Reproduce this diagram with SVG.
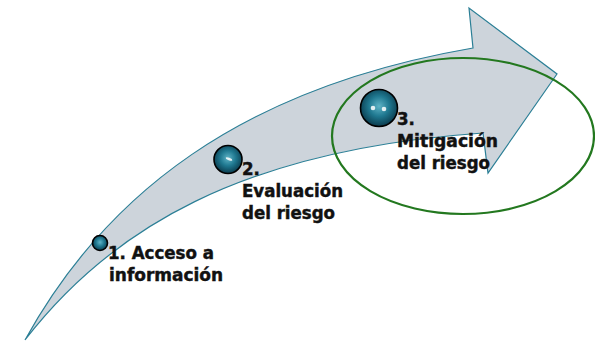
<svg xmlns="http://www.w3.org/2000/svg" width="595" height="341" viewBox="0 0 595 341">
<style>
.lbl{font-family:"DejaVu Sans Condensed","DejaVu Sans",sans-serif;font-weight:bold;font-size:18.5px;fill:#111;stroke:#111;stroke-width:0.45px;}
.ball{fill:url(#sph);stroke:#000;stroke-width:1.6;}
.hl{fill:#ffffff;opacity:0.85;}
</style>
<defs>
<radialGradient id="sph" cx="0.5" cy="0.45" r="0.55">
<stop offset="0" stop-color="#5fb3c6"/>
<stop offset="0.5" stop-color="#1f7890"/>
<stop offset="1" stop-color="#0a3a4c"/>
</radialGradient>
</defs>
<rect width="595" height="341" fill="#ffffff"/>
<g id="arrow">
<path d="M25,340 C105,195 240,88 473,48 L469,8 L557,74 L488,173 L483,133 C240,150 110,230 25,340 Z" fill="#cdd4db" stroke="#2b7f96" stroke-width="1.2" stroke-linejoin="miter"/>
</g>
<g id="highlight">
<ellipse cx="463" cy="136" rx="131" ry="78" fill="none" stroke="#23781f" stroke-width="2.2"/>
</g>
<g id="step1">
<circle class="ball" cx="100" cy="243" r="7.5"/>
<text class="lbl" x="108" y="259" textLength="106" lengthAdjust="spacingAndGlyphs">1. Acceso a</text>
<text class="lbl" x="109" y="281" textLength="114" lengthAdjust="spacingAndGlyphs">información</text>
</g>
<g id="step2">
<circle class="ball" cx="228" cy="159.5" r="14"/>
<ellipse class="hl" cx="229" cy="159" rx="3.5" ry="1.2" transform="rotate(20 229 159)"/>
<text class="lbl" x="242" y="175">2.</text>
<text class="lbl" x="242" y="197" textLength="101" lengthAdjust="spacingAndGlyphs">Evaluación</text>
<text class="lbl" x="242" y="219" textLength="93" lengthAdjust="spacingAndGlyphs">del riesgo</text>
</g>
<g id="step3">
<circle class="ball" cx="379" cy="108" r="18.5"/>
<circle class="hl" cx="373" cy="108" r="2.3"/>
<circle class="hl" cx="384" cy="109" r="2.3"/>
<text class="lbl" x="397" y="125">3.</text>
<text class="lbl" x="397" y="147" textLength="101" lengthAdjust="spacingAndGlyphs">Mitigación</text>
<text class="lbl" x="397" y="169" textLength="93" lengthAdjust="spacingAndGlyphs">del riesgo</text>
</g>
<g id="connectors"></g>
</svg>
